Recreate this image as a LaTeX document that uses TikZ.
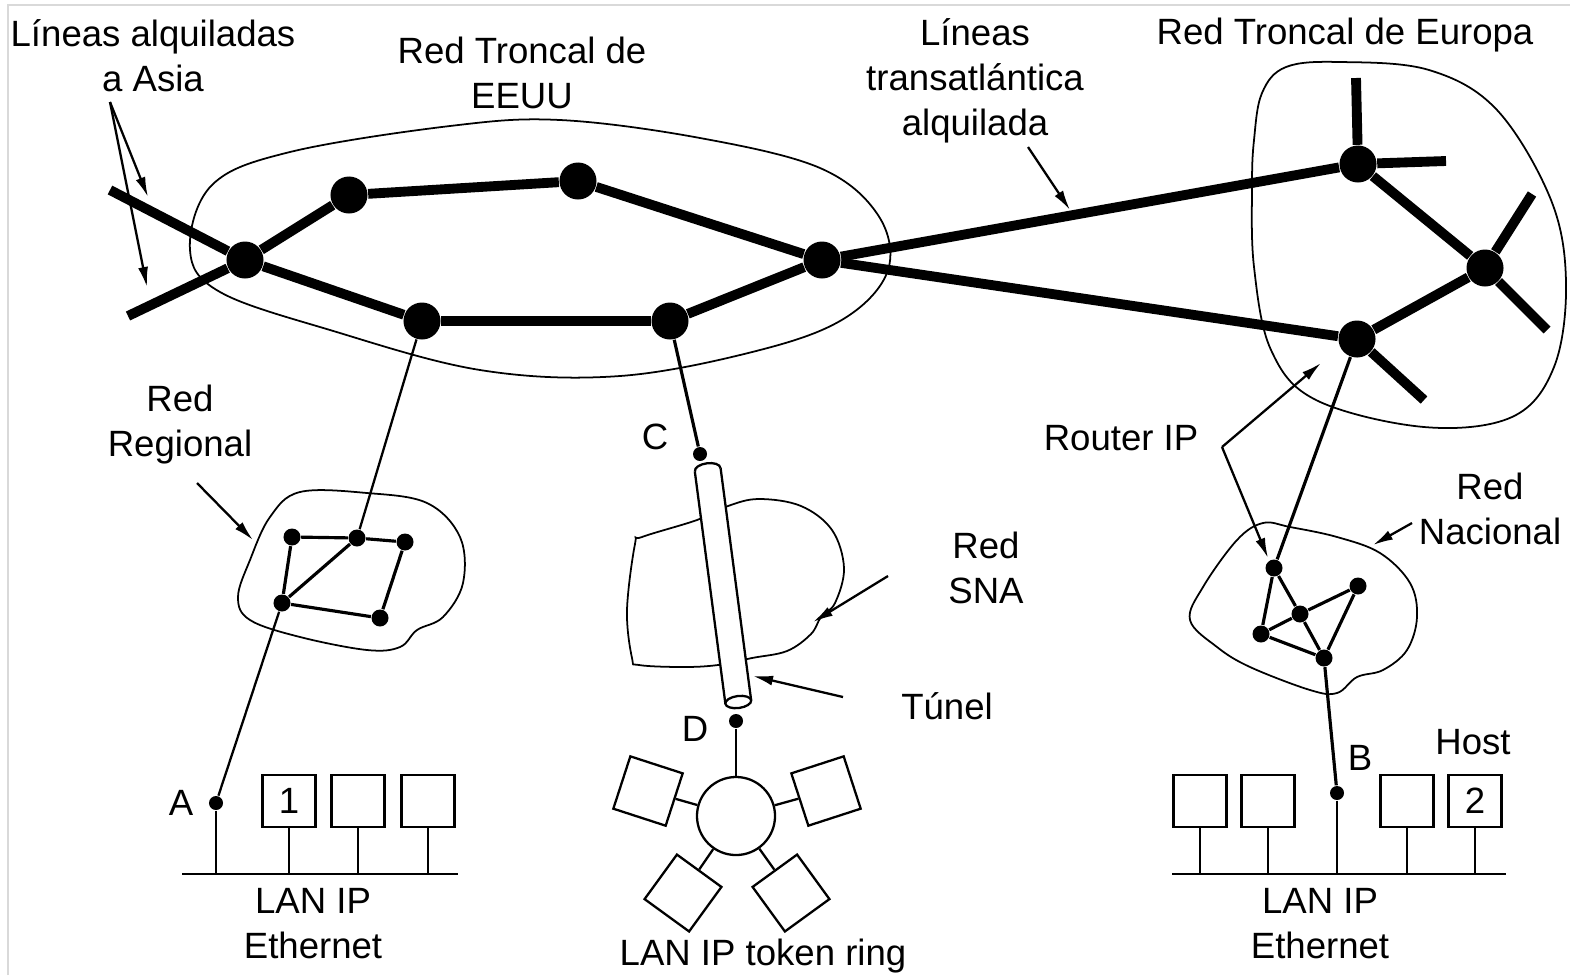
\documentclass[tikz,border=0pt]{standalone}
\usepackage{fontspec}
\setmainfont{Liberation Sans}
\usetikzlibrary{arrows.meta}

\begin{document}
\begin{tikzpicture}[
x=0.01cm, y=-0.01cm,
every node/.style={font=\fontsize{10.4}{12.8}\selectfont},
etiqueta/.style={align=center, inner sep=0pt},
troncal/.style={line width=2.8pt},
enlace/.style={line width=0.9pt},
fino/.style={line width=0.65pt},
contorno/.style={line width=0.5pt},
nodogrande/.style={circle, fill, inner sep=0pt, minimum size=0.37cm},
nodo/.style={circle, fill, inner sep=0pt, minimum size=0.17cm},
punto/.style={circle, fill, inner sep=0pt, minimum size=0.14cm},
host/.style={draw, line width=0.65pt, fill=white, minimum width=0.53cm, minimum height=0.52cm, inner sep=0pt},
equipo/.style={draw, line width=0.65pt, fill=white, minimum size=0.55cm, inner sep=0pt},
flecha/.style={-{Latex[length=0.2cm, width=0.1cm]}, line width=0.65pt}
]
\useasboundingbox (0,0) rectangle (1570,975);
\draw[gray!30, line width=0.5pt] (8,975) -- (8,5) -- (1570,5);

\draw[contorno] plot[smooth cycle, tension=0.6] coordinates {(190,250) (212,185) (290,152) (450,126) (560,120) (700,138) (820,168) (878,215) (888,270) (845,318) (760,350) (620,376) (480,370) (330,330) (220,292)};
\draw[contorno] plot[smooth cycle, tension=0.6] coordinates {(1254,140) (1262,93) (1286,67) (1340,62) (1429,70) (1497,110) (1551,200) (1566,283) (1554,367) (1512,417) (1424,427) (1316,400) (1271,350) (1254,267) (1252,187)};
\draw[contorno] plot[smooth cycle, tension=0.6] coordinates {(250,560) (270,517) (300,492) (367,493) (427,503) (460,537) (463,583) (443,617) (417,630) (400,647) (367,650) (300,637) (250,620) (238,597)};
\draw[contorno] plot[smooth cycle, tension=0.6] coordinates {(1203,587) (1237,540) (1263,523) (1290,527) (1337,537) (1380,553) (1410,583) (1417,617) (1407,650) (1383,670) (1357,677) (1337,693) (1310,690) (1250,667) (1217,647) (1190,620)};
\draw[contorno] plot[smooth cycle, tension=0.6] coordinates {(627,610) (635,544) (642,537) (697,520) (728,506) (759,499) (801,506) (832,530) (844,568) (835,603) (821,617) (811,634) (787,651) (752,658) (718,665) (683,667) (639,665) (632,658)};

\node[nodogrande] (us1) at (245,260) {};
\node[nodogrande] (us2) at (349,195) {};
\node[nodogrande] (us3) at (578,181) {};
\node[nodogrande] (us4) at (822,260) {};
\node[nodogrande] (us5) at (670,321) {};
\node[nodogrande] (us6) at (422,321) {};
\node[nodogrande] (eu1) at (1358,164) {};
\node[nodogrande] (eu2) at (1485,268) {};
\node[nodogrande] (eu3) at (1357,339) {};

\coordinate (asia1) at (110,190);
\coordinate (asia2) at (128,316);
\coordinate (eu1a) at (1356,78);
\coordinate (eu1b) at (1446,161);
\coordinate (eu2a) at (1532,194);
\coordinate (eu2b) at (1547,330);
\coordinate (eu3a) at (1424,400);

\draw[troncal] (asia1) -- (us1);
\draw[troncal] (asia2) -- (us1);
\draw[troncal] (us1) -- (us2);
\draw[troncal] (us2) -- (us3);
\draw[troncal] (us3) -- (us4);
\draw[troncal] (us4) -- (us5);
\draw[troncal] (us5) -- (us6);
\draw[troncal] (us6) -- (us1);
\draw[troncal] (us4) -- (eu1);
\draw[troncal] (us4) -- (eu3);
\draw[troncal] (eu1) -- (eu2);
\draw[troncal] (eu2) -- (eu3);
\draw[troncal] (eu1) -- (eu1a);
\draw[troncal] (eu1) -- (eu1b);
\draw[troncal] (eu2) -- (eu2a);
\draw[troncal] (eu2) -- (eu2b);
\draw[troncal] (eu3) -- (eu3a);

\node[nodo] (rg1) at (292,537) {};
\node[nodo] (rg2) at (357,538) {};
\node[nodo] (rg3) at (405,542) {};
\node[nodo] (rg4) at (282,603) {};
\node[nodo] (rg5) at (380,618) {};
\draw[enlace] (rg1) -- (rg2);
\draw[enlace] (rg2) -- (rg3);
\draw[enlace] (rg1) -- (rg4);
\draw[enlace] (rg2) -- (rg4);
\draw[enlace] (rg4) -- (rg5);
\draw[enlace] (rg3) -- (rg5);

\node[nodo] (nc1) at (1274,568) {};
\node[nodo] (nc2) at (1358,586) {};
\node[nodo] (nc3) at (1300,614) {};
\node[nodo] (nc4) at (1261,634) {};
\node[nodo] (nc5) at (1324,658) {};
\draw[enlace] (nc1) -- (nc3);
\draw[enlace] (nc1) -- (nc4);
\draw[enlace] (nc3) -- (nc2);
\draw[enlace] (nc3) -- (nc4);
\draw[enlace] (nc3) -- (nc5);
\draw[enlace] (nc4) -- (nc5);
\draw[enlace] (nc2) -- (nc5);

\node[punto] (puntoA) at (216,803) {};
\node[punto] (puntoB) at (1337,793) {};
\node[punto] (puntoC) at (700,454) {};
\node[punto] (puntoD) at (736,721) {};

\draw[fino] (us6) -- (rg2);
\draw[fino] (rg4) -- (puntoA);
\draw[enlace] (us5) -- (puntoC);
\draw[enlace] (eu3) -- (nc1);
\draw[enlace] (nc5) -- (puntoB);

\begin{scope}[shift={(723,586)}, rotate=7.5]
\fill[white] (-13,-117) rectangle (13,117);
\draw[fino] (-13,-117) -- (-13,117);
\draw[fino] (13,-117) -- (13,117);
\draw[fino] (-13,-117) .. controls (-13,-126) and (13,-126) .. (13,-117);
\draw[fino, fill=white] (0,117) ellipse [x radius=0.13cm, y radius=0.06cm];
\end{scope}

\node[draw, circle, line width=0.65pt, minimum size=0.78cm, inner sep=0pt] (anillo) at (736,816) {};
\node[equipo, rotate=-18] (tr1) at (648,791) {};
\node[equipo, rotate=18] (tr2) at (826,791) {};
\node[equipo, rotate=-36] (tr3) at (683,893) {};
\node[equipo, rotate=36] (tr4) at (791,893) {};
\draw[fino] (puntoD) -- (anillo);
\draw[fino] (anillo) -- (tr1);
\draw[fino] (anillo) -- (tr2);
\draw[fino] (anillo) -- (tr3);
\draw[fino] (anillo) -- (tr4);

\coordinate (busL1) at (182,874);
\coordinate (busL2) at (458,874);
\node[host] (hl1) at (289,801) {1};
\node[host] (hl2) at (358,801) {};
\node[host] (hl3) at (428,801) {};
\draw[fino] (busL1) -- (busL2);
\draw[fino] (puntoA) -- (puntoA |- busL1);
\draw[fino] (hl1) -- (hl1 |- busL1);
\draw[fino] (hl2) -- (hl2 |- busL1);
\draw[fino] (hl3) -- (hl3 |- busL1);

\coordinate (busR1) at (1172,874);
\coordinate (busR2) at (1506,874);
\node[host] (hr1) at (1200,801) {};
\node[host] (hr2) at (1268,801) {};
\node[host] (hr3) at (1407,801) {};
\node[host] (hr4) at (1475,801) {2};
\draw[fino] (busR1) -- (busR2);
\draw[fino] (puntoB) -- (puntoB |- busR1);
\draw[fino] (hr1) -- (hr1 |- busR1);
\draw[fino] (hr2) -- (hr2 |- busR1);
\draw[fino] (hr3) -- (hr3 |- busR1);
\draw[fino] (hr4) -- (hr4 |- busR1);

\node[etiqueta] (lblAsia) at (153,56) {Líneas alquiladas\\a Asia};
\node[etiqueta] (lblEEUU) at (522,73) {Red Troncal de\\EEUU};
\node[etiqueta] (lblTransat) at (975,81) {Líneas\\transatlántica\\alquilada};
\node[etiqueta] (lblEuropa) at (1345,35) {Red Troncal de Europa};
\node[etiqueta] (lblRegional) at (180,425) {Red\\Regional};
\node[etiqueta] (lblC) at (655,437) {C};
\node[etiqueta] (lblSNA) at (986,568) {Red\\SNA};
\node[etiqueta] (lblTunel) at (947,706) {Túnel};
\node[etiqueta] (lblD) at (695,729) {D};
\node[etiqueta] (lblRouter) at (1121,438) {Router IP};
\node[etiqueta] (lblNacional) at (1490,509) {Red\\Nacional};
\node[etiqueta] (lblHost) at (1473,742) {Host};
\node[etiqueta] (lblB) at (1360,758) {B};
\node[etiqueta] (lblA) at (181,803) {A};
\node[etiqueta] (lblLanL) at (313,924) {LAN IP\\Ethernet};
\node[etiqueta] (lblToken) at (763,956) {LAN IP token ring};
\node[etiqueta] (lblLanR) at (1320,924) {LAN IP\\Ethernet};

\coordinate (oAsia) at (110,102);
\coordinate (oTransat) at (1028,147);
\coordinate (oRegional) at (197,483);
\coordinate (oSNA) at (888,576);
\coordinate (oTunel) at (843,697);
\coordinate (oRouter) at (1222,447);
\coordinate (oNacional) at (1412,523);
\draw[flecha] (oAsia) -- (148,197);
\draw[flecha] (oAsia) -- (147,287);
\draw[flecha] (oTransat) -- (1070,210);
\draw[flecha] (oRegional) -- (253,540);
\draw[flecha] (oSNA) -- (813,622);
\draw[flecha] (oTunel) -- (753,676);
\draw[flecha] (oRouter) -- (1321,363);
\draw[flecha] (oRouter) -- (1268,558);
\draw[flecha] (oNacional) -- (1373,545);

\end{tikzpicture}
\end{document}
